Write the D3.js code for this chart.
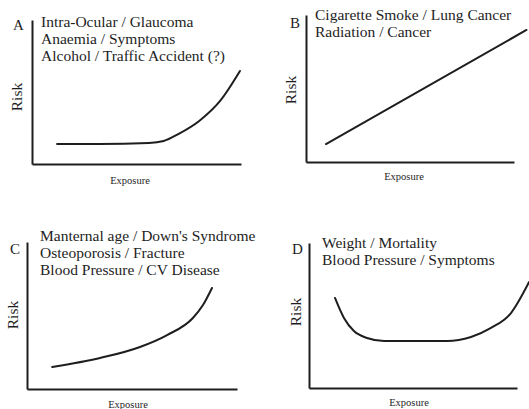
<!DOCTYPE html>
<html><head><meta charset="utf-8">
<script src="https://cdn.jsdelivr.net/npm/d3@7"></script>
<style>html,body{margin:0;padding:0;background:#fff;}svg{display:block;}</style>
</head><body>
<script>
// ---- data ----
const panelLetters = ["A", "B", "C", "D"];
const labelsA = ["Intra-Ocular / Glaucoma", "Anaemia / Symptoms", "Alcohol / Traffic Accident (?)"];
const labelsB = ["Cigarette Smoke / Lung Cancer", "Radiation / Cancer"];
const labelsC = ["Manternal age / Down's Syndrome", "Osteoporosis / Fracture", "Blood Pressure / CV Disease"];
const labelsD = ["Weight / Mortality", "Blood Pressure / Symptoms"];
const xAxisLabel = "Exposure";
const yAxisLabel = "Risk";

// exposure (0-10) / risk (0-10)
const exposureA = [1.2, 3.2, 5.6, 6.3, 7.0, 8.0, 9.0, 9.95];
const riskA     = [1.39, 1.39, 1.46, 1.6, 2.08, 2.99, 4.38, 6.46];
const exposureB = [0.96, 10.6];
const riskB     = [1.22, 8.98];
const exposureC = [1.2, 3.48, 5.38, 6.67, 7.9, 8.38, 8.81];
const riskC     = [1.5, 2.11, 2.86, 3.67, 4.83, 5.71, 6.87];
const exposureD = [1.25, 1.68, 2.16, 2.79, 3.61, 5.05, 6.63, 7.79, 8.75, 9.71, 10.58];
const riskD     = [6.21, 4.83, 3.93, 3.45, 3.24, 3.24, 3.24, 3.52, 4.14, 5.17, 7.31];

// ---- layout (pixels) ----
const layouts = [
  {x0: 32, x1: 241, y0: 164, y1: 20, letter: [13, 30], text: [41, 26.5], lineH: 17, risk: [21.5, 97], expo: [130, 184]},
  {x0: 306, x1: 514, y0: 162, y1: 15, letter: [290, 28], text: [315, 19.5], lineH: 17.5, risk: [295.5, 90], expo: [404, 180]},
  {x0: 27, x1: 237, y0: 389, y1: 242, letter: [10, 254], text: [40, 241], lineH: 17, risk: [18, 315], expo: [128, 408]},
  {x0: 309, x1: 517, y0: 388, y1: 243, letter: [292, 254], text: [322, 248], lineH: 17, risk: [300.5, 312], expo: [409, 406]}
];
const panels = [
  {labels: labelsA, ex: exposureA, rk: riskA},
  {labels: labelsB, ex: exposureB, rk: riskB},
  {labels: labelsC, ex: exposureC, rk: riskC},
  {labels: labelsD, ex: exposureD, rk: riskD}
];

const W = 529, H = 409;
const ink = "#1e1e1e";
const serif = "'Liberation Serif','Times New Roman',serif";
const svg = d3.select("body").append("svg").attr("width", W).attr("height", H);

panels.forEach((p, i) => {
  const L = layouts[i];
  const g = svg.append("g");
  const x = d3.scaleLinear().domain([0, 10]).range([L.x0, L.x1]);
  const y = d3.scaleLinear().domain([0, 10]).range([L.y0, L.y1]);

  // axes (no ticks)
  const xa = g.append("g").attr("transform", `translate(0,${L.y0})`)
    .call(d3.axisBottom(x).tickValues([]).tickSizeOuter(0));
  const ya = g.append("g").attr("transform", `translate(${L.x0},0)`)
    .call(d3.axisLeft(y).tickValues([]).tickSizeOuter(0));
  [xa, ya].forEach(a => a.select(".domain").attr("stroke", ink).attr("stroke-width", 2));

  // curve
  const line = d3.line().x(d => x(d[0])).y(d => y(d[1])).curve(d3.curveMonotoneX);
  g.append("path").datum(d3.zip(p.ex, p.rk)).attr("d", line)
    .attr("fill", "none").attr("stroke", ink).attr("stroke-width", 2).attr("stroke-linecap", "round");

  // letter
  g.append("text").attr("x", L.letter[0]).attr("y", L.letter[1]).text(panelLetters[i])
    .attr("font-family", serif).attr("font-size", 15).attr("fill", ink);

  // labels
  p.labels.forEach((t, k) => {
    g.append("text").attr("x", L.text[0]).attr("y", L.text[1] + k * L.lineH).text(t)
      .attr("font-family", serif).attr("font-size", 15.5).attr("fill", ink);
  });

  // axis titles
  g.append("text").attr("transform", `translate(${L.risk[0]},${L.risk[1]}) rotate(-90)`)
    .attr("text-anchor", "middle").text(yAxisLabel)
    .attr("font-family", serif).attr("font-size", 15.5).attr("fill", ink);
  g.append("text").attr("x", L.expo[0]).attr("y", L.expo[1]).attr("text-anchor", "middle")
    .text(xAxisLabel).attr("font-family", serif).attr("font-size", 10.5).attr("fill", ink);
});
</script>
</body></html>
